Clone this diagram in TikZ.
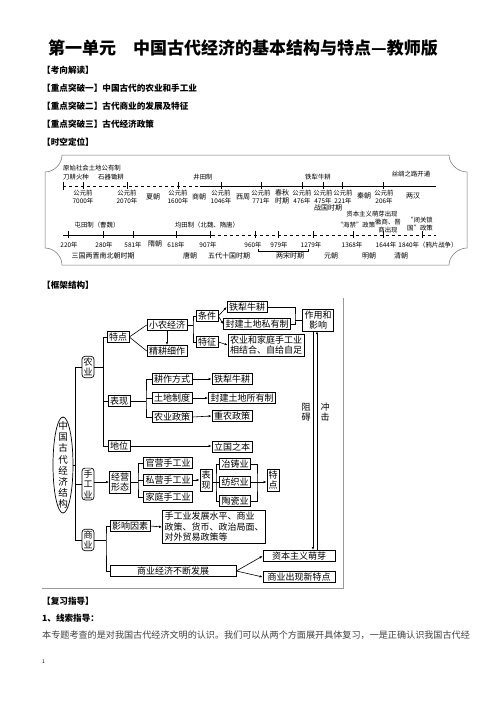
\documentclass[tikz,border=0pt]{standalone}
\usepackage{fontspec}
\setmainfont{Noto Sans CJK SC}
\usetikzlibrary{arrows.meta,positioning,shapes.geometric}

\begin{document}
\begin{tikzpicture}[
    x=1pt, y=-1pt,
    heading/.style={anchor=west, inner sep=0pt, font=\fontsize{8.6}{10}\selectfont\bfseries},
    tl/.style={inner sep=0pt, align=center, font=\fontsize{6.4}{7.2}\selectfont},
    tlbig/.style={inner sep=0pt, align=center, font=\fontsize{7}{7.8}\selectfont},
    boxbase/.style={draw, line width=0.7pt, inner xsep=2pt, font=\fontsize{9}{10.5}\selectfont, align=center},
    fbox/.style={boxbase, inner ysep=1.2pt, text height=7.4pt, text depth=1.4pt},
    mbox/.style={boxbase, inner ysep=1.5pt},
    vbox/.style={mbox, inner xsep=1.5pt},
    rbox/.style={vbox, rounded corners=3pt},
    arr/.style={-{Latex[length=3pt,width=2.4pt]}, line width=0.6pt},
    link/.style={line width=0.6pt},
    tick/.style={line width=0.5pt},
]
\useasboundingbox[fill=white] (0,0) rectangle (496,702);

% page header
\node[font=\fontsize{17}{20}\selectfont\bfseries] (title) at (243,48) {第一单元\quad 中国古代经济的基本结构与特点—教师版};
\node[heading] (h-kaoxiang) at (42,70) {【考向解读】};
\node[heading] (h-tupo1) at (42,88) {【重点突破一】中国古代的农业和手工业};
\node[heading] (h-tupo2) at (42,106) {【重点突破二】古代商业的发展及特征};
\node[heading] (h-tupo3) at (42,124) {【重点突破三】古代经济政策};
\node[heading] (h-shikong) at (42,142) {【时空定位】};

% timeline frame
\draw[line width=0.5pt, black!55] (62,155) -- (449,155)
  .. controls (449,164) and (458,172) .. (467,172) -- (467,248)
  .. controls (458,248) and (449,256) .. (449,265) -- (62,265)
  .. controls (62,256) and (54,248) .. (45,248) -- (45,172)
  .. controls (54,172) and (62,164) .. (62,155) -- cycle;

% upper timeline
\draw[tick, dashed] (63,186) -- (200,186);
\draw[tick] (200,186) -- (436,186);
\draw[tick] (63,182) -- (63,190);
\foreach \x in {83,127,178,221,261,302,323,342,383}
  \draw[tick] (\x,182) -- (\x,189);
\node[tl, anchor=west] (t-gongyou) at (63,168) {原始社会土地公有制};
\node[tl, anchor=west] (t-daogeng) at (63,177) {刀耕火种};
\node[tl, anchor=west] (t-chugeng) at (98,177) {石器锄耕};
\node[tl] (t-jingtian) at (203,177) {井田制};
\node[tl] (t-tieli) at (318,177) {铁犁牛耕};
\node[tl] (t-sichou) at (411,174) {丝绸之路开通};
\node[tl] (t-7000) at (83,197) {公元前\\7000年};
\node[tl] (t-2070) at (127,197) {公元前\\2070年};
\node[tlbig] (t-xia) at (153,197) {夏朝};
\node[tl] (t-1600) at (178,197) {公元前\\1600年};
\node[tlbig] (t-shang) at (199,197) {商朝};
\node[tl] (t-1046) at (221,197) {公元前\\1046年};
\node[tlbig] (t-xizhou) at (243,197) {西周};
\node[tl] (t-771) at (261,197) {公元前\\771年};
\node[tlbig] (t-chunqiu) at (282,197) {春秋\\时期};
\node[tl] (t-476) at (302,197) {公元前\\476年};
\node[tl] (t-475) at (323,197) {公元前\\475年};
\node[tl] (t-221) at (343,197) {公元前\\221年};
\node[tlbig] (t-zhanguo) at (328,208) {战国时期};
\node[tlbig] (t-qin) at (364,196) {秦朝};
\node[tl] (t-206) at (384,197) {公元前\\206年};
\node[tlbig] (t-lianghan) at (413,196) {两汉};

% lower timeline
\draw[tick] (63,235) -- (212,235);
\draw[tick, dashed] (212,235) -- (436,235);
\foreach \x in {68,103,133,176,210,255,278,313,353,383,422}
  \draw[tick] (\x,231) -- (\x,238);
\node[tl] (t-tuntian) at (97,225) {屯田制（曹魏）};
\node[tl] (t-juntian) at (207,225) {均田制（北魏、隋唐）};
\node[tl] (t-zibenchu) at (372,214) {资本主义萌芽出现};
\node[tl] (t-haijin) at (356,225) {“海禁”政策};
\node[tl] (t-huishang) at (388,226) {徽商、晋\\商出现};
\node[tl] (t-biguan) at (420,224) {“闭关锁\\国”政策};
\node[tl] (t-220) at (69,245) {220年};
\node[tl] (t-280) at (104,245) {280年};
\node[tl] (t-581) at (133,245) {581年};
\node[tlbig] (t-sui) at (155,244) {隋朝};
\node[tl] (t-618) at (176,245) {618年};
\node[tl] (t-907) at (208,245) {907年};
\node[tl] (t-960) at (253,245) {960年};
\node[tl] (t-979) at (279,245) {979年};
\node[tl] (t-1279) at (311,245) {1279年};
\node[tl] (t-1368) at (352,245) {1368年};
\node[tl] (t-1644) at (386,245) {1644年};
\node[tl] (t-1840) at (428,245) {1840年（鸦片战争）};
\draw[tick] (258,249) -- (258,251) -- (308,251) -- (308,249);
\node[tlbig] (t-sanguo) at (103,256) {三国两晋南北朝时期};
\node[tlbig] (t-tang) at (190,256) {唐朝};
\node[tlbig] (t-wudai) at (229,256) {五代十国时期};
\node[tlbig] (t-liangsong) at (290,256) {两宋时期};
\node[tlbig] (t-yuan) at (331,256) {元朝};
\node[tlbig] (t-ming) at (369,256) {明朝};
\node[tlbig] (t-qing) at (401,256) {清朝};

\node[heading] (h-kuangjia) at (42,285) {【框架结构】};

% framework picture edge
\draw[line width=0.5pt, black!40] (343,298) -- (343,588) -- (42,588);

% root and three sectors
\node[draw, ellipse, line width=0.7pt, minimum width=20pt, minimum height=96pt, inner sep=0pt] (econ) at (63,465) {};
\node[align=center, inner sep=0pt, font=\fontsize{9.5}{11.2}\selectfont] (econ-text) at (econ.center) {中\\国\\古\\代\\经\\济\\结\\构};
\node[rbox] (agri) at (88,367) {农\\业};
\node[rbox] (craft) at (88,484) {手\\工\\业};
\node[rbox] (comm) at (88,540) {商\\业};
\coordinate (trunk-top) at (75,367);
\coordinate (trunk-bot) at (75,540);
\draw[link] (trunk-top) -- (trunk-bot);
\draw[link] (econ.east) -- (econ.east -| trunk-top);
\draw[link] (trunk-top) -- (agri.west);
\draw[link] (craft.west) -- (craft.west -| trunk-top);
\draw[link] (trunk-bot) -- (comm.west);

% agriculture
\node[fbox] (tedian) at (118,337) {特点};
\node[fbox] (biaoxian) at (119,401) {表现};
\node[fbox] (diwei) at (119,446) {地位};
\coordinate (ag-top) at (103,337);
\coordinate (ag-bot) at (103,446);
\draw[link] (ag-top) -- (ag-bot);
\draw[link] (agri.east) -- (agri.east -| ag-top);
\draw[link] (ag-top) -- (tedian.west);
\draw[link] (biaoxian.west -| ag-top) -- (biaoxian.west);
\draw[link] (ag-bot) -- (diwei.west);

\node[fbox] (xiaonong) at (167,325) {小农经济};
\node[fbox] (jinggeng) at (167,351) {精耕细作};
\draw[link] (tedian.east) -- (xiaonong.west);
\draw[link] (tedian.east) -- (jinggeng.west);
\draw[arr] (xiaonong.south) -- (jinggeng.north);

\node[fbox] (tiaojian) at (207,316) {条件};
\node[fbox] (tezheng) at (207,342) {特征};
\coordinate (xn-split) at (193,325);
\draw[link] (xiaonong.east) -- (xn-split);
\draw[link] (tiaojian.west) -| (xn-split) |- (tezheng.west);

\node[fbox] (tieli1) at (247,307) {铁犁牛耕};
\node[fbox] (sili) at (257,324) {封建土地私有制};
\node[mbox, align=left] (zigei) at (266,345) {农业和家庭手工业\\相结合、自给自足};
\draw[arr] (tiaojian.east) -- (tieli1.west);
\draw[arr] (tiaojian.east) -- (sili.west);
\draw[arr] (tezheng.east) -- (zigei.west);

\node[mbox] (zuoyong) at (318,320) {作用和\\影响};
\coordinate (zy-join) at (295,320);
\draw[link] (tieli1.east) -| (zy-join) |- (sili.east);
\draw[link] (zy-join) -- (zuoyong.west);

\node[fbox] (gengzuo) at (172,379) {耕作方式};
\node[fbox] (tudi) at (172,398) {土地制度};
\node[fbox] (nongzheng) at (172,417) {农业政策};
\coordinate (bx-split) at (146,401);
\draw[link] (biaoxian.east) -- (bx-split);
\draw[link] (gengzuo.west) -| (bx-split) |- (nongzheng.west);
\draw[link] (tudi.west) -- (tudi.west -| bx-split);
\node[fbox] (tieli2) at (232,379) {铁犁牛耕};
\node[fbox] (suoyou) at (242,398) {封建土地所有制};
\node[fbox] (zhongnong) at (232,416) {重农政策};
\draw[arr] (gengzuo.east) -- (tieli2.west);
\draw[arr] (tudi.east) -- (suoyou.west);
\draw[arr] (nongzheng.east) -- (zhongnong.west);
\node[fbox] (liguo) at (232,447) {立国之本};
\draw[arr] (diwei.east) -- (diwei.east -| liguo.west);

% handicraft
\node[vbox] (jingying) at (120,482) {经营\\形态};
\draw[arr] (craft.east |- jingying.west) -- (jingying.west);
\node[fbox] (guanying) at (168,463) {官营手工业};
\node[fbox] (siying) at (168,480) {私营手工业};
\node[fbox] (jiating) at (168,497) {家庭手工业};
\coordinate (jy-split) at (138,482);
\draw[link] (jingying.east) -- (jy-split);
\draw[link] (guanying.west) -| (jy-split) |- (jiating.west);
\draw[link] (siying.west) -- (siying.west -| jy-split);

\node[vbox] (bxcraft) at (206,480) {表\\现};
\draw[arr] (siying.east) -- (bxcraft.west);
\node[fbox] (yezhu) at (235,464) {冶铸业};
\node[fbox] (fangzhi) at (235,482) {纺织业};
\node[fbox] (taoci) at (235,501) {陶瓷业};
\coordinate (bc-split) at (216,482);
\draw[link] (bxcraft.east |- bc-split) -- (bc-split);
\draw[link] (yezhu.west) -| (bc-split) |- (taoci.west);
\draw[link] (fangzhi.west) -- (bc-split);
\node[vbox] (tedian2) at (273,480) {特\\点};
\coordinate (bc-join) at (257,482);
\draw[link] (yezhu.east) -| (bc-join) |- (taoci.east);
\draw[link] (fangzhi.east) -- (bc-join);
\draw[arr] (bc-join) -- (bc-join -| tedian2.west);

% commerce
\node[fbox] (yinsu) at (130,526) {影响因素};
\node[mbox, align=left] (yinsu-list) at (214,527) {手工业发展水平、商业\\政策、货币、政治局面、\\对外贸易政策等};
\node[fbox, minimum width=126pt] (fazhan) at (173,571) {商业经济不断发展};
\coordinate (cm-split) at (106,540);
\draw[link] (comm.east) -- (cm-split);
\draw[link] (yinsu.west) -| (cm-split) |- (fazhan.west);
\draw[arr] (yinsu.east) -- (yinsu-list.west);
\node[fbox, minimum width=72pt] (mengya) at (299,556) {资本主义萌芽};
\node[fbox, minimum width=72pt] (xintedian) at (299,577) {商业出现新特点};
\draw[arr] (fazhan.east) -- (mengya.west);
\draw[arr] (fazhan.east) -- (xintedian.west);

% obstruction and impact
\draw[arr] ([xshift=-5pt]zuoyong.south) -- ([xshift=-5pt]zuoyong.south |- mengya.north);
\draw[arr] ([xshift=-1pt]zuoyong.south |- mengya.north) -- ([xshift=-1pt]zuoyong.south);
\node[align=center, inner sep=0pt, font=\fontsize{9}{10.5}\selectfont] (zuai) at (306,412) {阻\\碍};
\node[align=center, inner sep=0pt, font=\fontsize{9}{10.5}\selectfont] (chongji) at (325,412) {冲\\击};

% review guide
\node[heading] (h-fuxi) at (42,601) {【复习指导】};
\node[heading] (h-xiansuo) at (42,618) {1、线索指导：};
\node[anchor=west, inner sep=0pt, text=black!75, font=\fontsize{9.1}{11}\selectfont] (body) at (42,635) {本专题考查的是对我国古代经济文明的认识。我们可以从两个方面展开具体复习，一是正确认识我国古代经};
\node[anchor=west, inner sep=0pt, font=\fontsize{5}{6}\selectfont] (pageno) at (42,662) {1};
\end{tikzpicture}
\end{document}
